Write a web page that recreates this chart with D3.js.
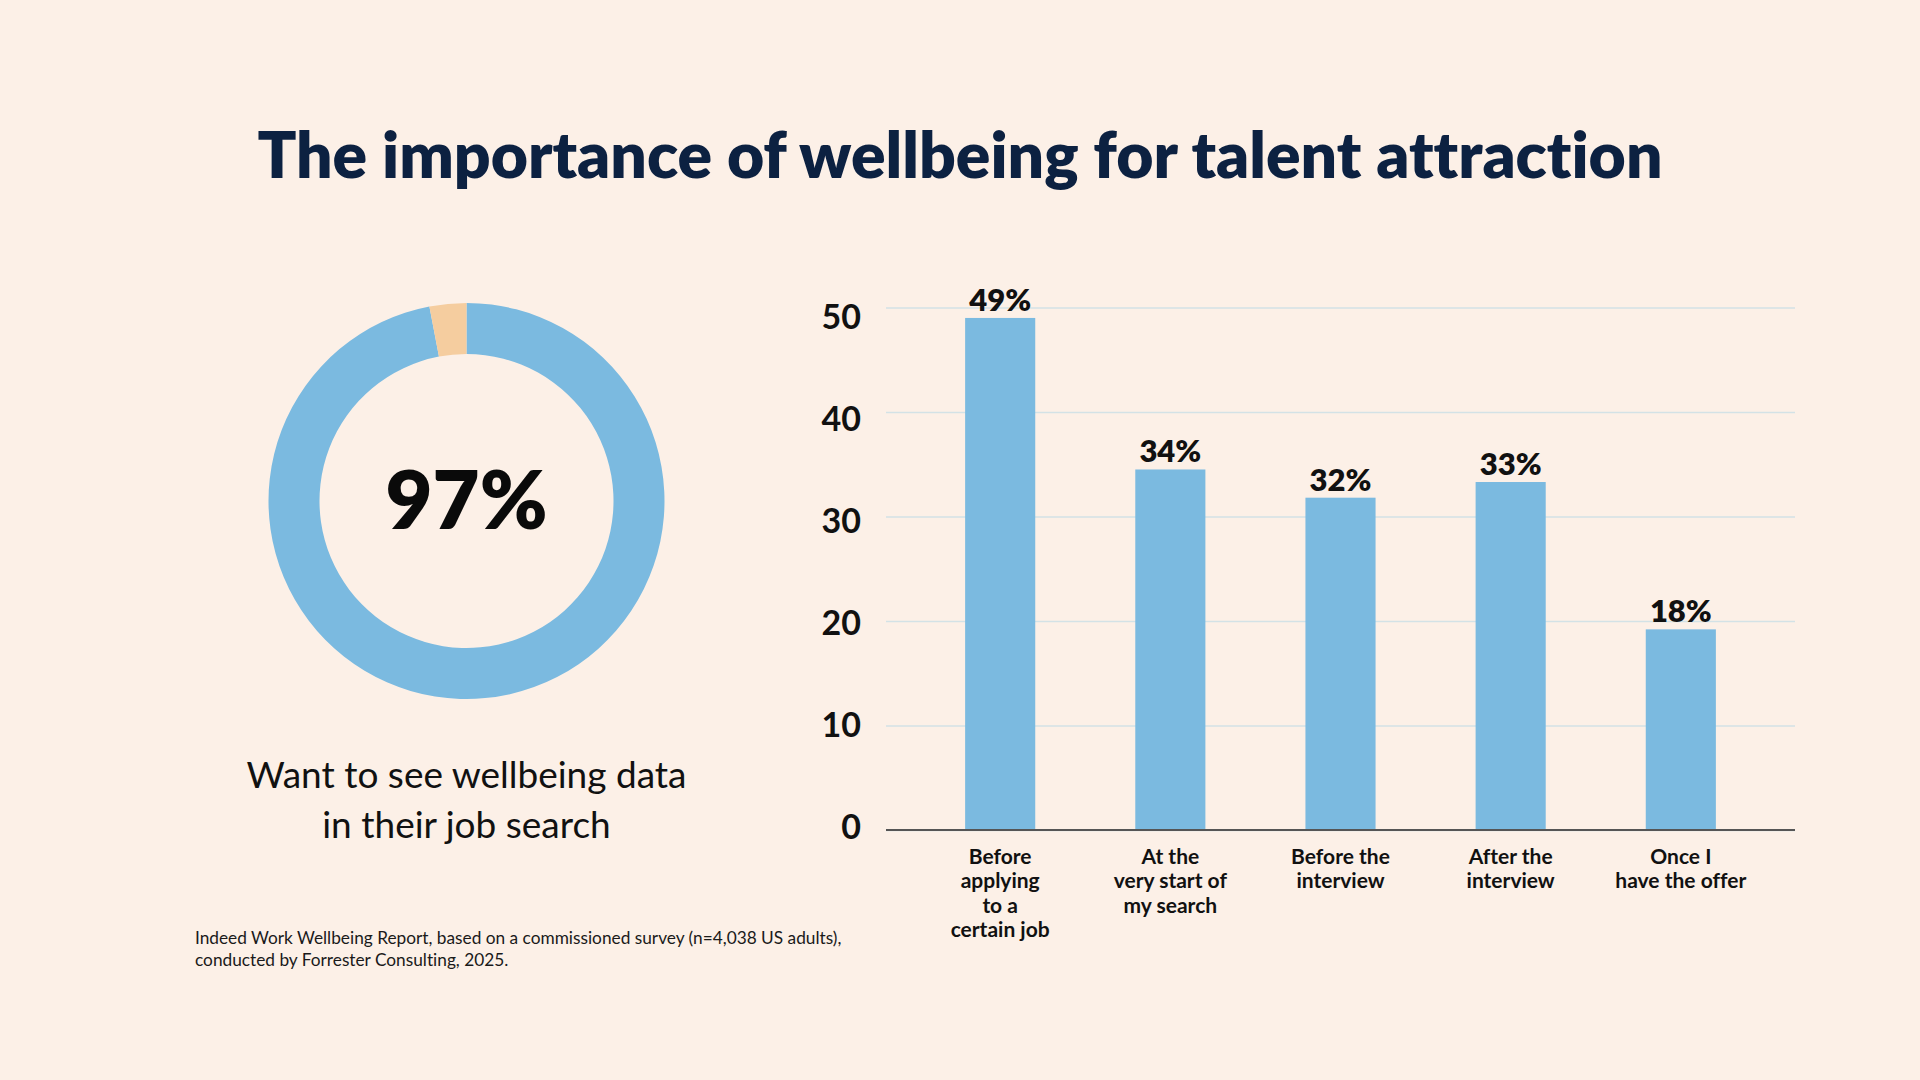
<!DOCTYPE html>
<html>
<head>
<meta charset="utf-8">
<script src="https://cdn.jsdelivr.net/npm/d3@7"></script>
<style>
  html, body { margin: 0; padding: 0; background: #fcf0e7; }
  svg { display: block; }
  text { font-family: Lato, "Noto Sans", sans-serif; font-variant-ligatures: none; }
</style>
</head>
<body>
<div id="chart"></div>
<script>
const width = 1920;
const height = 1080;

// donut: share who want wellbeing data
const donutValues = [97, 3];
const donutColors = ["#7bbae0", "#f5cd9f"];
const donutLabel = "97%";
const donutCaption = ["Want to see wellbeing data", "in their job search"];

// bar chart
const categories = [
    ["Before", "applying", "to a", "certain job"],
    ["At the", "very start of", "my search"],
    ["Before the", "interview"],
    ["After the", "interview"],
    ["Once I", "have the offer"]
];
const barValues = [49, 34.5, 31.8, 33.3, 19.2];   // bar heights as drawn
const barLabels = ["49%", "34%", "32%", "33%", "18%"];
const yTicks = [0, 10, 20, 30, 40, 50];

const title = "The importance of wellbeing for talent attraction";
const source = [
    "Indeed Work Wellbeing Report, based on a commissioned survey (n=4,038 US adults),",
    "conducted by Forrester Consulting, 2025."
];

const svg = d3.select("#chart").append("svg")
    .attr("width", width)
    .attr("height", height);

svg.append("rect")
    .attr("width", width)
    .attr("height", height)
    .attr("fill", "#fcf0e7");

// font size that makes a text span the wanted width
function fitSize(sel, target) {
    const size = parseFloat(sel.attr("font-size"));
    const w = sel.node().getComputedTextLength();
    return +(size * target / w).toFixed(2);
}

// title
const titleText = svg.append("text")
    .attr("x", 960)
    .attr("y", 178)
    .attr("text-anchor", "middle")
    .attr("font-size", 63)
    .attr("font-weight", 800)
    .attr("fill", "#0c2141")
    .text(title);
titleText.attr("font-size", fitSize(titleText, 1405));

// ---- donut ----
const cx = 466.5, cy = 501;
const pie = d3.pie().sort(null)(donutValues);
const arc = d3.arc().innerRadius(147).outerRadius(198);

const donut = svg.append("g").attr("transform", `translate(${cx},${cy})`);
donut.selectAll("path")
    .data(pie)
    .enter()
    .append("path")
    .attr("d", arc)
    .attr("fill", (d, i) => donutColors[i]);

const big = donut.append("text")
    .attr("y", 28)
    .attr("text-anchor", "middle")
    .attr("font-size", 86)
    .attr("font-weight", 800)
    .attr("fill", "#0a0a0a")
    .text(donutLabel);
big.attr("font-size", fitSize(big, 162));

const capLines = svg.selectAll("text.cap")
    .data(donutCaption)
    .enter()
    .append("text")
    .attr("class", "cap")
    .attr("x", cx)
    .attr("y", (d, i) => 788 + i * 50)
    .attr("text-anchor", "middle")
    .attr("font-size", 32)
    .attr("fill", "#111")
    .text(d => d);
capLines.attr("font-size", fitSize(capLines.filter((d, i) => i === 0), 440));

// source note
const srcLines = svg.selectAll("text.src")
    .data(source)
    .enter()
    .append("text")
    .attr("class", "src")
    .attr("x", 195)
    .attr("y", (d, i) => 944 + i * 22)
    .attr("font-size", 16)
    .attr("fill", "#1a1a1a")
    .text(d => d);
srcLines.attr("font-size", fitSize(srcLines.filter((d, i) => i === 0), 647));

// ---- bar chart ----
const x0 = 886, x1 = 1795, yTop = 307.5, yBase = 830;

const x = d3.scaleBand()
    .domain(d3.range(categories.length))
    .range([x0, x1])
    .paddingInner(0.588)
    .paddingOuter(0.465);

const y = d3.scaleLinear()
    .domain([0, 50])
    .range([yBase, yTop]);

// tick labels in the original sit on a slightly tighter spacing than the grid
const yLabel = d3.scaleLinear()
    .domain([0, 50])
    .range([826.5, 316]);

const yAxis = d3.axisLeft(y)
    .tickValues(yTicks)
    .tickSize(-(x1 - x0))
    .tickPadding(25)
    .tickFormat(d3.format("d"));

const gy = svg.append("g")
    .attr("transform", `translate(${x0},0)`)
    .call(yAxis);

gy.select(".domain").remove();
gy.selectAll(".tick line")
    .attr("stroke", "#d3e2e6")
    .attr("stroke-width", 1.5);
gy.selectAll(".tick text")
    .attr("font-size", 34)
    .attr("font-weight", 700)
    .attr("fill", "#111")
    .attr("y", d => yLabel(d) - y(d))
    .attr("dy", "0.36em");

svg.selectAll("rect.bar")
    .data(barValues)
    .enter()
    .append("rect")
    .attr("class", "bar")
    .attr("x", (d, i) => x(i))
    .attr("y", d => y(d))
    .attr("width", x.bandwidth())
    .attr("height", d => yBase - y(d))
    .attr("fill", "#7bbae0");

// baseline
svg.append("line")
    .attr("x1", x0)
    .attr("x2", x1)
    .attr("y1", yBase)
    .attr("y2", yBase)
    .attr("stroke", "#555")
    .attr("stroke-width", 2);

// value labels
svg.selectAll("text.val")
    .data(barValues)
    .enter()
    .append("text")
    .attr("class", "val")
    .attr("x", (d, i) => x(i) + x.bandwidth() / 2)
    .attr("y", d => y(d) - 7)
    .attr("text-anchor", "middle")
    .attr("font-size", 31)
    .attr("font-weight", 800)
    .attr("fill", "#111")
    .text((d, i) => barLabels[i]);

// category labels
const cat = svg.selectAll("text.cat")
    .data(categories)
    .enter()
    .append("text")
    .attr("class", "cat")
    .attr("text-anchor", "middle")
    .attr("font-size", 21)
    .attr("font-weight", 700)
    .attr("fill", "#111");

cat.selectAll("tspan")
    .data((d, i) => d.map(line => ({ line, i })))
    .enter()
    .append("tspan")
    .attr("x", d => x(d.i) + x.bandwidth() / 2)
    .attr("y", (d, j) => 864 + j * 24.3)
    .text(d => d.line);
</script>
</body>
</html>
